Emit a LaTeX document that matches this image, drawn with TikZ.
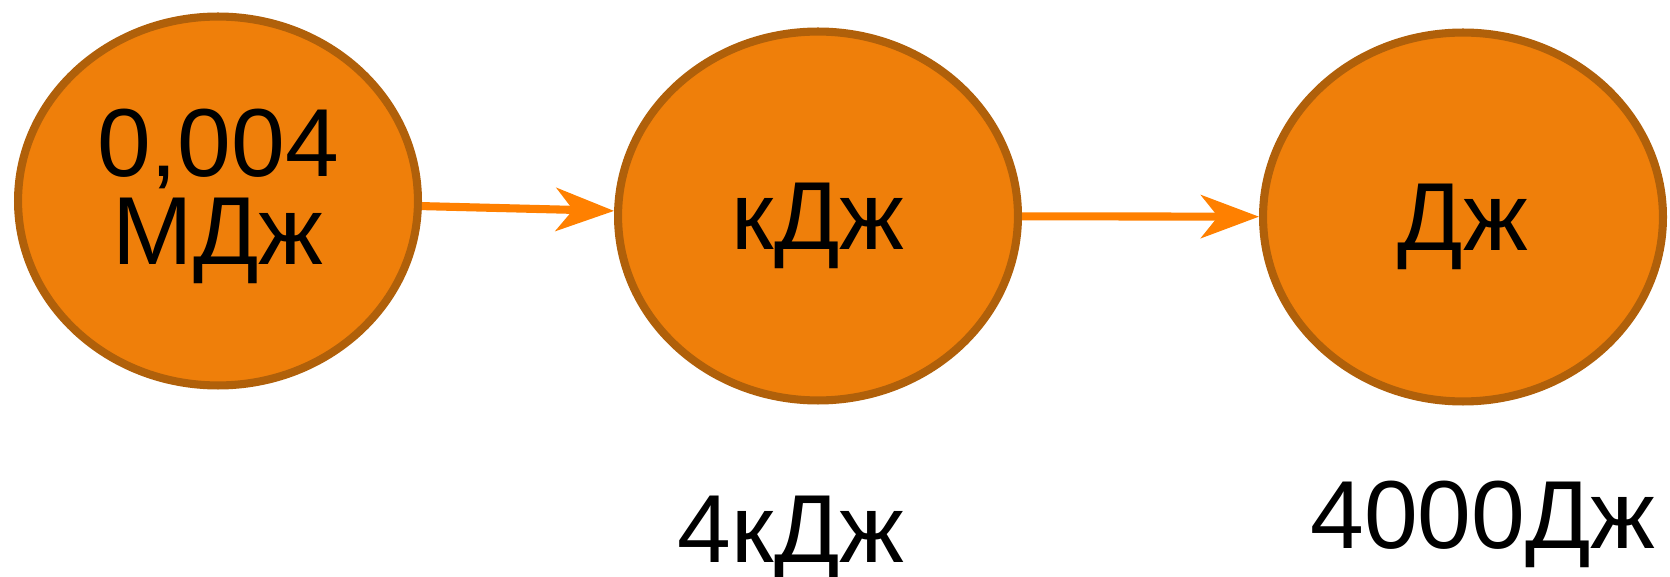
\documentclass[tikz,border=0pt]{standalone}
\usepackage{fontspec}
\setmainfont{Liberation Sans}
\usetikzlibrary{shapes.geometric,arrows.meta}
\definecolor{fillor}{HTML}{EF7F0A}
\definecolor{edgeor}{HTML}{B0600A}
\definecolor{arrowor}{HTML}{FF8000}
\begin{document}
\begin{tikzpicture}[x=0.02cm,y=-0.02cm,
  unit/.style={draw=edgeor,fill=fillor,ellipse,line width=4.6pt,minimum width=8.0cm,minimum height=7.38cm,inner sep=0pt,text depth=0pt,font=\fontsize{55}{50}\selectfont,align=center},
  val/.style={inner sep=0pt,font=\fontsize{55}{50}\selectfont},
  conv/.style={draw=arrowor,line width=4.6pt,-{Stealth[length=1.16cm,width=0.86cm,inset=0.34cm]}}]
  \useasboundingbox (0,0) rectangle (1670,577);
  \node[unit,text depth=0.56cm] (mj) at (218,201) {0,004\\МДж};
  \node[unit] (kj) at (818,216) {кДж};
  \node[unit] (j) at (1463,217) {Дж};
  \draw[conv] (mj)--(kj);
  \draw[conv] (kj)--(j);
  \node[val,anchor=base] (kjv) at (791,562) {4кДж};
  \node[val,anchor=base] (jv) at (1483,548) {4000Дж};
\end{tikzpicture}
\end{document}
